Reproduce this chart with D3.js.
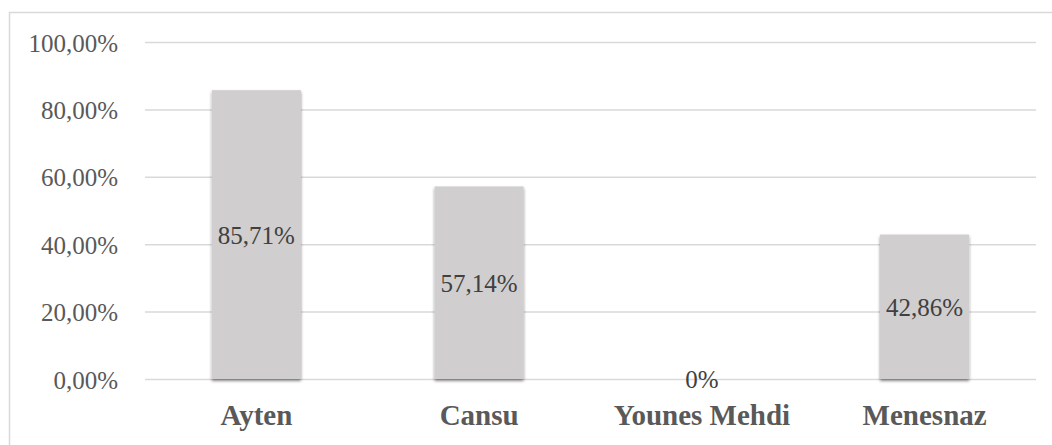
<!DOCTYPE html>
<html>
<head>
<meta charset="utf-8">
<script src="https://cdn.jsdelivr.net/npm/d3@7"></script>
<style>
  html, body { margin: 0; padding: 0; background: #fff; }
  svg { display: block; }
</style>
</head>
<body>
<svg id="chart" width="1052" height="445"></svg>
<script>
// chart data
const names = ['Ayten', 'Cansu', 'Younes Mehdi', 'Menesnaz'];
const shares = [85.71, 57.14, 0, 42.86];
const shareLabels = ['85,71%', '57,14%', '0%', '42,86%'];
const yTicks = [0, 20, 40, 60, 80, 100];
const yTickLabels = ['0,00%', '20,00%', '40,00%', '60,00%', '80,00%', '100,00%'];

const FONT = 'Liberation Serif';
const W = 1052, H = 445;
const plot = { left: 145, right: 1036, top: 42, bottom: 379 };

const svg = d3.select('#chart');

const defs = svg.append('defs');
const shadow = defs.append('filter')
  .attr('id', 'shadow')
  .attr('x', '-10%').attr('y', '-10%')
  .attr('width', '120%').attr('height', '120%');
shadow.append('feDropShadow')
  .attr('dx', 0).attr('dy', 2)
  .attr('stdDeviation', 1.6)
  .attr('flood-color', '#000')
  .attr('flood-opacity', 0.45);

// outer frame
svg.append('rect')
  .attr('x', 9.5).attr('y', 12.5)
  .attr('width', W).attr('height', H)
  .attr('fill', 'none')
  .attr('stroke', '#d9d9d9')
  .attr('stroke-width', 1.5);

const x = d3.scaleBand()
  .domain(names)
  .range([plot.left, plot.right])
  .paddingInner(0.6)
  .paddingOuter(0.3);

const y = d3.scaleLinear()
  .domain([0, 100])
  .range([plot.bottom, plot.top]);

// gridlines + y labels
const yAxis = d3.axisLeft(y)
  .tickValues(yTicks)
  .tickSize(-(plot.right - plot.left))
  .tickPadding(27)
  .tickFormat((d, i) => yTickLabels[i]);

const yG = svg.append('g')
  .attr('transform', `translate(${plot.left},0)`)
  .call(yAxis)
  .attr('font-family', FONT)
  .attr('font-size', 25);
yG.select('.domain').remove();
yG.selectAll('.tick line')
  .attr('stroke', '#d9d9d9')
  .attr('stroke-width', 1.5);
yG.selectAll('.tick text')
  .attr('fill', '#595959')
  .attr('dy', '0.36em');

// bars
svg.append('g')
  .selectAll('rect')
  .data(names)
  .join('rect')
  .attr('x', d => x(d))
  .attr('width', x.bandwidth())
  .attr('y', (d, i) => y(shares[i]))
  .attr('height', (d, i) => y(0) - y(shares[i]))
  .attr('fill', '#d0cece')
  .attr('filter', 'url(#shadow)');

// value labels
svg.append('g')
  .attr('font-family', FONT)
  .attr('font-size', 25)
  .selectAll('text')
  .data(names)
  .join('text')
  .attr('x', d => x(d) + x.bandwidth() / 2)
  .attr('y', (d, i) => (y(shares[i]) + y(0)) / 2)
  .attr('dy', '0.36em')
  .attr('text-anchor', 'middle')
  .attr('fill', '#404040')
  .text((d, i) => shareLabels[i]);

// category labels
const xAxis = d3.axisBottom(x).tickSize(0).tickPadding(0);
const xG = svg.append('g')
  .attr('transform', `translate(0,${plot.bottom})`)
  .call(xAxis)
  .attr('font-family', FONT)
  .attr('font-size', 29)
  .attr('font-weight', 'bold');
xG.select('.domain').remove();
xG.selectAll('.tick text')
  .attr('y', 46)
  .attr('dy', 0)
  .attr('fill', '#595959');
</script>
</body>
</html>
